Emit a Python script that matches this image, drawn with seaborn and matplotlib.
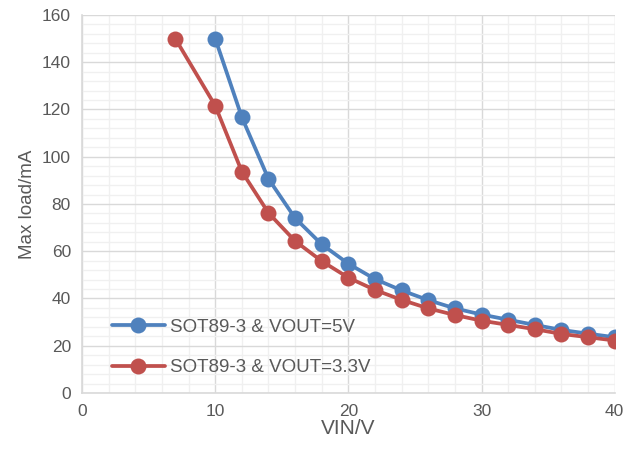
import seaborn as sns
import matplotlib.pyplot as plt
import pandas as pd
from matplotlib.ticker import MultipleLocator

# Max load vs input voltage
vin_5v = [10, 12, 14, 16, 18, 20, 22, 24, 26, 28, 30, 32, 34, 36, 38, 40]
load_5v = [150, 116.7, 90.6, 74, 62.9, 54.7, 48.2, 43.4, 39.3, 35.8, 33.2, 31.0, 28.8, 26.7, 25.1, 23.6]

vin_3v3 = [7, 10, 12, 14, 16, 18, 20, 22, 24, 26, 28, 30, 32, 34, 36, 38, 40]
load_3v3 = [150, 121.6, 93.7, 76.2, 64.3, 55.8, 48.8, 43.6, 39.4, 35.8, 33.0, 30.6, 28.8, 27.0, 25.0, 23.6, 22.2]

labels = ["SOT89-3 & VOUT=5V", "SOT89-3 & VOUT=3.3V"]
colors = {labels[0]: "#4F81BD", labels[1]: "#C0504D"}

x_ticks = [0, 10, 20, 30, 40]
y_ticks = [0, 20, 40, 60, 80, 100, 120, 140, 160]

df = pd.concat([
    pd.DataFrame({"VIN": vin_5v, "load": load_5v, "series": labels[0]}),
    pd.DataFrame({"VIN": vin_3v3, "load": load_3v3, "series": labels[1]}),
], ignore_index=True)

sns.set_style("white")
plt.rcParams['font.family'] = ['Liberation Sans', 'DejaVu Sans']

fig = plt.figure(figsize=(6.41, 4.53), dpi=100)
ax = fig.add_axes([0.128, 0.1325, 0.831, 0.8345])

sns.lineplot(data=df, x="VIN", y="load", hue="series", palette=colors,
             marker="o", markersize=11.5, markeredgewidth=0, linewidth=2.7,
             sort=False, ax=ax)

ax.set_xlim(0, 40)
ax.set_ylim(0, 160)
ax.set_xticks(x_ticks)
ax.set_yticks(y_ticks)
ax.xaxis.set_minor_locator(MultipleLocator(2))
ax.yaxis.set_minor_locator(MultipleLocator(4))
ax.grid(which="minor", color="#F0F0F0", linewidth=1)
ax.grid(which="major", color="#D9D9D9", linewidth=1)
ax.set_axisbelow(True)
for side in ["top", "right"]:
    ax.spines[side].set_visible(False)
for side in ["left", "bottom"]:
    ax.spines[side].set_color("#D9D9D9")
    ax.spines[side].set_linewidth(1.2)

ax.tick_params(which="both", length=0, labelsize=12.5, colors="#595959", pad=8)
ax.set_xlabel("VIN/V", fontsize=15, color="#595959", labelpad=0)
ax.set_ylabel("Max load/mA", fontsize=13.5, color="#595959", labelpad=4)

leg = ax.legend(loc="lower left", bbox_to_anchor=(0.025, 0.0), frameon=False,
                fontsize=13.5, labelspacing=1.25, handlelength=2.8, handletextpad=0.3)
for t in leg.get_texts():
    t.set_color("#595959")

fig.savefig("out.png", dpi=100)
